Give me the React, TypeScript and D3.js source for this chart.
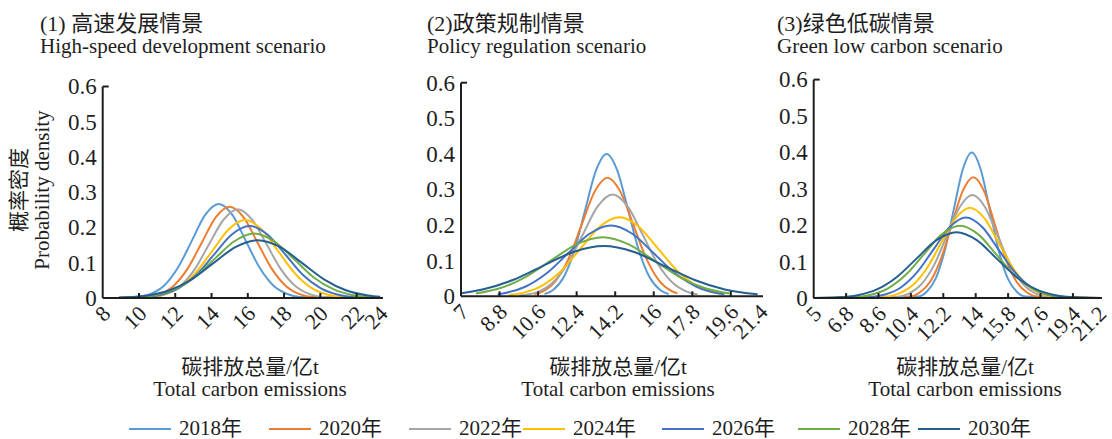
import React from "react";
import * as d3 from "d3";

type Pt = [number, number];

const years = ["2018年", "2020年", "2022年", "2024年", "2026年", "2028年", "2030年"];
const yearColors = ["#5B9BD5", "#ED7D31", "#A5A5A5", "#FFC000", "#4472C4", "#70AD47", "#255E91"];

const densityTicks = [0, 0.1, 0.2, 0.3, 0.4, 0.5, 0.6];
const highSpeedTicks = [8, 10, 12, 14, 16, 18, 20, 22, 24];
const policyTicks = [7, 8.8, 10.6, 12.4, 14.2, 16, 17.8, 19.6, 21.4];
const greenTicks = [5, 6.8, 8.6, 10.4, 12.2, 14, 15.8, 17.6, 19.4, 21.2];

const titlesCn = ["(1) 高速发展情景", "(2)政策规制情景", "(3)绿色低碳情景"];
const titlesEn = ["High-speed development scenario", "Policy regulation scenario", "Green low carbon scenario"];
const yTitleCn = "概率密度";
const yTitleEn = "Probability density";
const xTitleCn = "碳排放总量/亿t";
const xTitleEn = "Total carbon emissions";

// (1) High-speed development: [emissions, density]
const highSpeedCurves: Pt[][] = [
  [[8.9, 0], [9.92, 0.003], [10.67, 0.012], [11.41, 0.036], [12.16, 0.087], [12.91, 0.162], [13.65, 0.236], [14.4, 0.267], [15.15, 0.236], [15.89, 0.162], [16.64, 0.087], [17.39, 0.036], [18.14, 0.012], [18.88, 0.003], [23.3, 0]],
  [[8.9, 0], [10.38, 0.003], [11.15, 0.011], [11.92, 0.035], [12.69, 0.084], [13.46, 0.157], [14.23, 0.229], [15.0, 0.259], [15.77, 0.229], [16.54, 0.157], [17.31, 0.084], [18.08, 0.035], [18.85, 0.011], [19.62, 0.003], [23.3, 0]],
  [[8.9, 0], [10.7, 0.003], [11.49, 0.011], [12.28, 0.034], [13.08, 0.082], [13.87, 0.153], [14.66, 0.222], [15.45, 0.252], [16.24, 0.222], [17.03, 0.153], [17.82, 0.082], [18.62, 0.034], [19.41, 0.011], [20.2, 0.003], [23.3, 0]],
  [[8.9, 0], [10.44, 0.0025], [11.34, 0.0097], [12.24, 0.03], [13.14, 0.072], [14.05, 0.134], [14.95, 0.195], [15.85, 0.221], [16.75, 0.195], [17.66, 0.134], [18.56, 0.072], [19.46, 0.03], [20.36, 0.0097], [21.27, 0.0025], [23.3, 0]],
  [[8.9, 0.0002], [10.24, 0.0023], [11.21, 0.009], [12.19, 0.028], [13.17, 0.066], [14.15, 0.124], [15.12, 0.18], [16.1, 0.204], [17.08, 0.18], [18.06, 0.124], [19.03, 0.066], [20.01, 0.028], [20.99, 0.009], [21.97, 0.0023], [23.3, 0.0002]],
  [[8.9, 0.0005], [9.81, 0.002], [10.9, 0.008], [11.99, 0.025], [13.08, 0.059], [14.17, 0.111], [15.26, 0.161], [16.35, 0.183], [17.44, 0.161], [18.53, 0.111], [19.62, 0.059], [20.71, 0.025], [21.8, 0.008], [22.89, 0.002], [23.3, 0.0011]],
  [[8.9, 0.0011], [9.26, 0.0018], [10.48, 0.0072], [11.69, 0.022], [12.91, 0.053], [14.12, 0.0995], [15.34, 0.145], [16.55, 0.164], [17.77, 0.145], [18.98, 0.0995], [20.2, 0.053], [21.41, 0.022], [22.63, 0.0072], [23.3, 0.0035]],
];

// (2) Policy regulation
const policyCurves: Pt[][] = [
  [[10.9, 0.006], [11.3, 0.0176], [11.8, 0.054], [12.3, 0.13], [12.8, 0.243], [13.3, 0.353], [13.8, 0.4], [14.3, 0.353], [14.8, 0.243], [15.3, 0.13], [15.8, 0.054], [16.3, 0.0176], [16.7, 0.006]],
  [[10.42, 0.0057], [10.84, 0.0146], [11.44, 0.045], [12.04, 0.108], [12.64, 0.202], [13.24, 0.294], [13.84, 0.333], [14.44, 0.294], [15.04, 0.202], [15.64, 0.108], [16.24, 0.045], [16.84, 0.0146], [17.11, 0.0081]],
  [[9.72, 0.0022], [10.59, 0.0126], [11.29, 0.0387], [11.99, 0.0929], [12.69, 0.1735], [13.38, 0.2524], [14.08, 0.286], [14.78, 0.2524], [15.48, 0.1735], [16.17, 0.0929], [16.87, 0.0387], [17.57, 0.0126], [18.05, 0.005]],
  [[9.25, 0.0038], [9.89, 0.0097], [10.79, 0.03], [11.69, 0.072], [12.59, 0.1346], [13.49, 0.196], [14.39, 0.222], [15.29, 0.196], [16.19, 0.1346], [17.09, 0.072], [17.99, 0.03], [18.89, 0.0097], [19.2, 0.0063]],
  [[8.71, 0.006], [9.0, 0.0087], [10.0, 0.0269], [11.0, 0.0646], [12.0, 0.1207], [13.0, 0.1756], [14.0, 0.199], [15.0, 0.1756], [16.0, 0.1207], [17.0, 0.0646], [18.0, 0.0269], [19.0, 0.0087], [19.3, 0.006]],
  [[7.7, 0.008], [8.81, 0.0225], [10.01, 0.0539], [11.21, 0.1007], [12.41, 0.1465], [13.61, 0.166], [14.81, 0.1465], [16.01, 0.1007], [17.21, 0.0539], [18.41, 0.0225], [19.55, 0.0078]],
  [[7.0, 0.0088], [8.0, 0.0191], [9.42, 0.0458], [10.83, 0.0855], [12.25, 0.1244], [13.66, 0.141], [15.08, 0.1244], [16.49, 0.0855], [17.91, 0.0458], [19.32, 0.0191], [20.85, 0.0056]],
];

// (3) Green low carbon
const greenCurves: Pt[][] = [
  [[5, 0], [10.78, 0.0044], [11.28, 0.0176], [11.78, 0.054], [12.28, 0.13], [12.78, 0.243], [13.28, 0.353], [13.78, 0.4], [14.28, 0.353], [14.78, 0.243], [15.28, 0.13], [15.78, 0.054], [16.28, 0.0176], [16.78, 0.0044], [21, 0]],
  [[5, 0], [10.27, 0.0037], [10.87, 0.0146], [11.47, 0.0449], [12.07, 0.1078], [12.67, 0.2014], [13.27, 0.293], [13.87, 0.332], [14.47, 0.293], [15.07, 0.2014], [15.67, 0.1078], [16.27, 0.0449], [16.87, 0.0146], [17.47, 0.0037], [21, 0]],
  [[5, 0], [9.58, 0.0031], [10.29, 0.0124], [10.99, 0.0383], [11.7, 0.0919], [12.4, 0.1716], [13.11, 0.2497], [13.81, 0.283], [14.52, 0.2497], [15.22, 0.1716], [15.93, 0.0919], [16.63, 0.0383], [17.34, 0.0124], [18.04, 0.0031], [21, 0]],
  [[5, 0], [8.85, 0.0028], [9.66, 0.0109], [10.46, 0.0336], [11.27, 0.0805], [12.07, 0.1504], [12.88, 0.2189], [13.68, 0.248], [14.49, 0.2189], [15.29, 0.1504], [16.1, 0.0805], [16.9, 0.0336], [17.71, 0.0109], [18.51, 0.0028], [21, 0]],
  [[5, 0], [8.06, 0.0025], [8.96, 0.0097], [9.86, 0.0299], [10.76, 0.0718], [11.66, 0.134], [12.56, 0.195], [13.46, 0.221], [14.36, 0.195], [15.26, 0.134], [16.16, 0.0718], [17.06, 0.0299], [17.96, 0.0097], [18.86, 0.0025], [21, 0]],
  [[5, 0], [7.13, 0.0022], [8.13, 0.0087], [9.13, 0.0269], [10.13, 0.0646], [11.13, 0.1207], [12.13, 0.1756], [13.13, 0.199], [14.13, 0.1756], [15.13, 0.1207], [16.13, 0.0646], [17.13, 0.0269], [18.13, 0.0087], [19.13, 0.0022], [21, 0]],
  [[5, 0.0003], [6.34, 0.002], [7.44, 0.0079], [8.54, 0.0245], [9.64, 0.0588], [10.74, 0.1098], [11.84, 0.1597], [12.94, 0.181], [14.04, 0.1597], [15.14, 0.1098], [16.24, 0.0588], [17.34, 0.0245], [18.44, 0.0079], [19.54, 0.002], [21, 0.0003]],
];

const FONT = "'Liberation Serif', 'Noto Sans CJK SC', serif";
const INK = "#1e1e1e";

interface PanelLayout {
  ticks: number[];
  curves: Pt[][];
  xRange: [number, number];
  axisEnd: number;
  yRange: [number, number];
  titleX: number;
  xTitleCx: number;
}

const layouts: PanelLayout[] = [
  { ticks: highSpeedTicks, curves: highSpeedCurves, xRange: [102.7, 392.9], axisEnd: 383, yRange: [298, 86.5], titleX: 40, xTitleCx: 250 },
  { ticks: policyTicks, curves: policyCurves, xRange: [461, 769.4], axisEnd: 763, yRange: [296.3, 82.7], titleX: 427, xTitleCx: 618 },
  { ticks: greenTicks, curves: greenCurves, xRange: [813.7, 1105.3], axisEnd: 1101.7, yRange: [298.1, 79.6], titleX: 777, xTitleCx: 965 },
];

function Panel({ layout, index }: { layout: PanelLayout; index: number }) {
  const { ticks } = layout;
  const x = d3.scaleLinear().domain([ticks[0], ticks[ticks.length - 1]]).range(layout.xRange);
  const y = d3.scaleLinear().domain([0, 0.6]).range(layout.yRange);
  const line = d3
    .line<Pt>()
    .x((d) => x(d[0]))
    .y((d) => y(d[1]))
    .curve(d3.curveMonotoneX);
  const x0 = x(ticks[0]);
  const y0 = y(0);
  const labelX = (t: number, i: number) =>
    i === ticks.length - 1 ? layout.axisEnd + 6 : x(t) + 9;
  return (
    <g>
      <text x={layout.titleX} y={31} fontSize={22} fill={INK} fontFamily={FONT}>
        {titlesCn[index]}
      </text>
      <text x={layout.titleX} y={53} fontSize={21} fill={INK} fontFamily={FONT}>
        {titlesEn[index]}
      </text>
      {layout.curves.map((c, i) => (
        <path key={i} d={line(c) || ""} fill="none" stroke={yearColors[i]} strokeWidth={2} />
      ))}
      {/* y axis */}
      <line x1={x0} x2={x0} y1={y(0)} y2={y(0.6)} stroke={INK} strokeWidth={2} />
      <line x1={x0} x2={x0 + 6} y1={y(0.6)} y2={y(0.6)} stroke={INK} strokeWidth={2} />
      {densityTicks.map((t) => (
        <text key={t} x={x0 - 6} y={y(t)} dy="0.34em" textAnchor="end" fontSize={23} fill={INK} fontFamily={FONT}>
          {String(t)}
        </text>
      ))}
      {/* x axis */}
      <line x1={x0} x2={layout.axisEnd} y1={y0} y2={y0} stroke={INK} strokeWidth={2} />
      {ticks.slice(1, -1).map((t) => (
        <line key={t} x1={x(t)} x2={x(t)} y1={y0} y2={y0 - 5} stroke={INK} strokeWidth={2} />
      ))}
      {ticks.map((t, i) => (
        <text
          key={t}
          transform={`translate(${labelX(t, i)},${y0 + 17}) rotate(-45)`}
          textAnchor="end"
          fontSize={22}
          fill={INK}
          fontFamily={FONT}
        >
          {String(t)}
        </text>
      ))}
      <text x={layout.xTitleCx} y={374} textAnchor="middle" fontSize={21} fill={INK} fontFamily={FONT}>
        {xTitleCn}
      </text>
      <text x={layout.xTitleCx} y={396} textAnchor="middle" fontSize={21} fill={INK} fontFamily={FONT}>
        {xTitleEn}
      </text>
    </g>
  );
}

const legendX = [129, 269, 409, 523, 662, 798, 918];

export default function App() {
  return (
    <svg
      width={1112}
      height={439}
      viewBox="0 0 1112 439"
      style={{ position: "absolute", left: 0, top: 0, background: "#fff" }}
    >
      <rect width={1112} height={439} fill="#fff" />
      {layouts.map((l, i) => (
        <Panel key={i} layout={l} index={i} />
      ))}
      <text transform="translate(26,190) rotate(-90)" textAnchor="middle" fontSize={21} fill={INK} fontFamily={FONT}>
        {yTitleCn}
      </text>
      <text transform="translate(49,190) rotate(-90)" textAnchor="middle" fontSize={21} fill={INK} fontFamily={FONT}>
        {yTitleEn}
      </text>
      {years.map((yr, i) => (
        <g key={yr}>
          <line x1={legendX[i]} x2={legendX[i] + 42} y1={429} y2={429} stroke={yearColors[i]} strokeWidth={2} />
          <text x={legendX[i] + 50} y={435} fontSize={21} fill={INK} fontFamily={FONT}>
            {yr}
          </text>
        </g>
      ))}
    </svg>
  );
}
